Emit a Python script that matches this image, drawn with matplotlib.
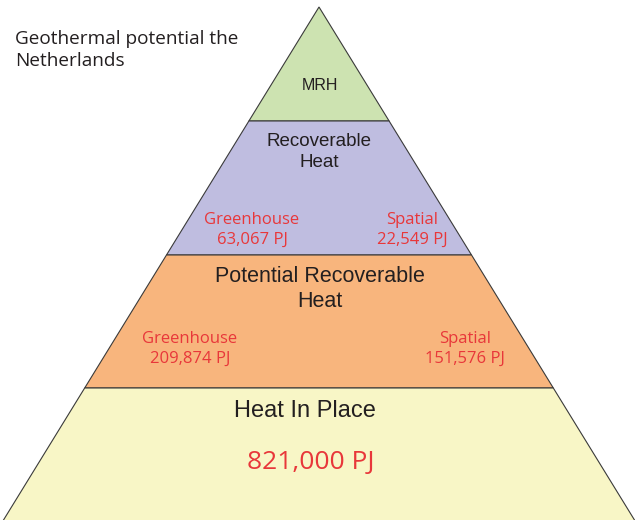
import matplotlib
matplotlib.use("Agg")
import matplotlib.pyplot as plt
from matplotlib.patches import Polygon

# pyramid tiers, top to bottom
tiers = ["MRH", "Recoverable\nHeat", "Potential Recoverable\nHeat", "Heat In Place"]
tier_colors = ["#cde3b1", "#bfbde0", "#f8b57d", "#f8f6c6"]

# per-tier red numbers (PJ)
greenhouse_pj = [None, "63,067", "209,874", None]
spatial_pj = [None, "22,549", "151,576", None]
total_pj = "821,000"

title = "Geothermal potential the\nNetherlands"

W, H = 635, 520
apex = (319, 7)
half_slope = 0.615          # horizontal run per vertical px on each side
levels = [7, 121, 255, 388, 522]

fig = plt.figure(figsize=(W / 100, H / 100), dpi=100)
ax = fig.add_axes([0, 0, 1, 1])
ax.set_xlim(0, W)
ax.set_ylim(H, 0)
ax.axis("off")


def half_width(y):
    return (y - apex[1]) * half_slope


for i, name in enumerate(tiers):
    y0, y1 = levels[i], levels[i + 1]
    w0, w1 = half_width(y0), half_width(y1)
    pts = [(apex[0] - w0, y0), (apex[0] + w0, y0),
           (apex[0] + w1, y1), (apex[0] - w1, y1)]
    ax.add_patch(Polygon(pts, closed=True, facecolor=tier_colors[i],
                         edgecolor="#3a3a3a", linewidth=0.8))

dark = "#231f20"
# tier titles
ax.text(320, 85, tiers[0], ha="center", va="center", fontsize=11.5,
        family="Liberation Sans", color=dark)
ax.text(319, 152, tiers[1], ha="center", va="center", fontsize=13.5,
        family="Liberation Sans", color=dark, linespacing=1.27)
ax.text(320, 289, tiers[2], ha="center", va="center", fontsize=15.5,
        family="Liberation Sans", color=dark, linespacing=1.22)
ax.text(305, 411, tiers[3], ha="center", va="center", fontsize=17,
        family="Liberation Sans", color=dark)

red = "#e8373a"
# side numbers
side_pos = {1: ((252, 230), (412, 230)), 2: ((190, 349), (465, 349))}
for i, ((gx, gy), (sx, sy)) in side_pos.items():
    ax.text(gx, gy, f"Greenhouse\n{greenhouse_pj[i]} PJ", ha="center", va="center",
            fontsize=12, family="Open Sans", color=red, linespacing=1.35)
    ax.text(sx, sy, f"Spatial\n{spatial_pj[i]} PJ", ha="center", va="center",
            fontsize=12, family="Open Sans", color=red, linespacing=1.35)

ax.text(311, 462, f"{total_pj} PJ", ha="center", va="center", fontsize=19,
        family="Open Sans", color=red)

ax.text(15, 50, title, ha="left", va="center", fontsize=13.7,
        family="Open Sans", color=dark, linespacing=1.25)

fig.savefig("out.png", dpi=100)
